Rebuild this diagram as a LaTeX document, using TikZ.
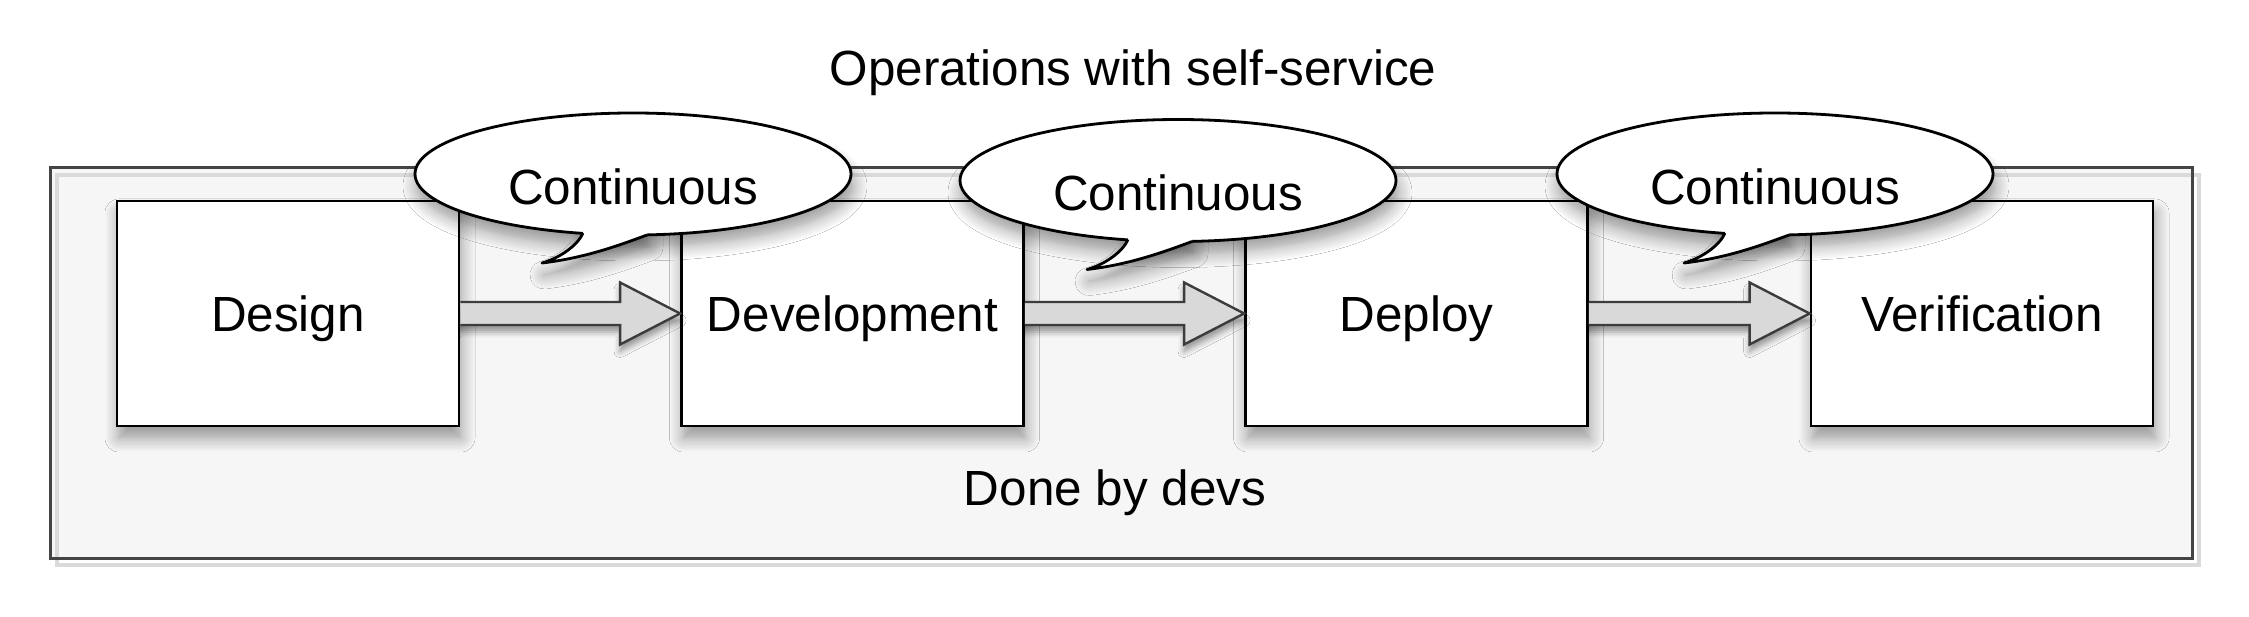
\documentclass[tikz,border=0pt]{standalone}
\usepackage{fontspec}
\setmainfont{Liberation Sans}
\usetikzlibrary{calc,shapes.geometric,shadows.blur}
\definecolor{framegray}{HTML}{444444}
\definecolor{contfill}{HTML}{F6F6F6}
\definecolor{shadowline}{HTML}{DADADA}
\definecolor{arrowfill}{HTML}{D9D9D9}
\definecolor{arrowstroke}{HTML}{3C3C3C}
\begin{document}
\begin{tikzpicture}[x=0.5pt,y=0.5pt,
  lbl/.style={font=\fontsize{24.7}{30}\selectfont, text height=17.7pt, text depth=0pt, inner sep=0pt},
  stage/.style={draw=black, line width=1.4pt, fill=white, minimum width=171pt, minimum height=112.5pt,
    inner sep=0pt, font=\fontsize{24.7}{30}\selectfont, text height=17.7pt, text depth=0pt,
    blur shadow={shadow xshift=1pt, shadow yshift=-6pt, shadow blur radius=7pt, shadow blur steps=8}},
  flow/.style={draw=arrowstroke, line width=1.2pt, fill=arrowfill, line join=miter,
    blur shadow={shadow xshift=0pt, shadow yshift=-3.5pt, shadow blur radius=3pt}},
  bubble/.style={ellipse, draw=black, line width=1.4pt, fill=white, minimum width=218pt, minimum height=61pt,
    inner sep=0pt, font=\fontsize{24.7}{30}\selectfont, text height=30.5pt, text depth=0pt},
  bubshadow/.style={blur shadow={shadow xshift=1pt, shadow yshift=-6pt, shadow blur radius=7pt, shadow blur steps=8}},
  tailline/.style={draw=black, line width=1.4pt, line join=round}
]
\useasboundingbox (0,0) rectangle (2249,616);

% container
\node[fill=contfill, minimum width=1071pt, minimum height=195pt, inner sep=0pt, outer sep=0pt] (cont) at (1121,253) {};
\draw[shadowline, line width=1.8pt] ($(cont.south west)+(7,-7)$) rectangle ($(cont.north east)+(7,-7)$);
\draw[framegray, line width=1.5pt] (cont.south west) rectangle (cont.north east);

% title and bottom label
\node[lbl, anchor=base] (title) at (1133,530) {Operations with self-service};
\node[lbl, anchor=base] (done) at (1115,111) {Done by devs};

% stages
\node[stage] (design) at (288,302.5) {Design};
\node[stage] (dev) at (852.5,302.5) {Development};
\node[stage] (deploy) at (1416.5,302.5) {Deploy};
\node[stage] (verif) at (1982,302.5) {Verification};

% block arrows
\foreach \a/\b in {design/dev, dev/deploy, deploy/verif}{
  \draw[flow] ($(\a.east)+(0,11.5)$) -- ($(\b.west)+(-60,11.5)$) -- ($(\b.west)+(-60,31)$)
    -- (\b.west) -- ($(\b.west)+(-60,-31)$) -- ($(\b.west)+(-60,-11.5)$) -- ($(\a.east)+(0,-11.5)$);
}

% speech bubbles
\coordinate (p1) at (633,442);
\coordinate (p2) at (1178,435.5);
\coordinate (p3) at (1775,442);
\foreach \p/\c in {p1/c1, p2/c2, p3/c3}{
  \begin{scope}[shift={(\p)}]
    \path[bubshadow] (0,0) ellipse [x radius=109pt, y radius=30.5pt];
    \path[bubshadow] (-50,-45) -- (-50,-59) .. controls (-55,-71) and (-73,-84) .. (-91,-89)
      .. controls (-48,-84) and (-13,-71) .. (14,-61) -- (14,-45) -- cycle;
  \end{scope}
  \node[bubble] (\c) at (\p) {Continuous};
  \begin{scope}[shift={(\c.center)}]
    \fill[white] (-50,-45) -- (-50,-59) .. controls (-55,-71) and (-73,-84) .. (-91,-89)
      .. controls (-48,-84) and (-13,-71) .. (14,-61) -- (14,-45) -- cycle;
    \draw[tailline] (-50,-59) .. controls (-55,-71) and (-73,-84) .. (-91,-89)
      .. controls (-48,-84) and (-13,-71) .. (14,-61);
  \end{scope}
}
\end{tikzpicture}
\end{document}
